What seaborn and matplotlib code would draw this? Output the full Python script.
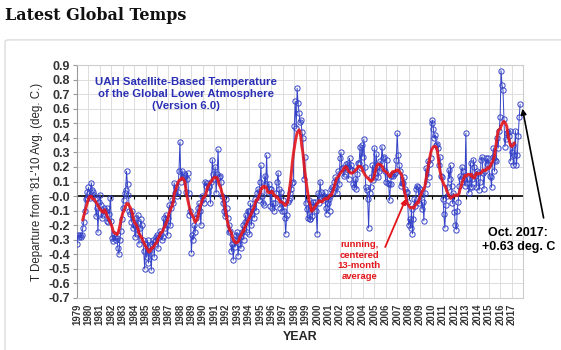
import numpy as np
import pandas as pd
import matplotlib
matplotlib.use('Agg')
import matplotlib.pyplot as plt
import seaborn as sns
from matplotlib.patches import FancyBboxPatch

# monthly anomalies, Jan 1979 .. Oct 2017 (deg C, vs 1981-2010)
anomaly = [
    -0.33, -0.27, -0.28, -0.27, -0.28, -0.27, -0.22, -0.18, -0.10, -0.02, -0.01, 0.03,   # 1979
    0.06, 0.02, -0.01, 0.09, 0.04, 0.03, 0.01, -0.02, -0.14, -0.08, -0.25, -0.04,        # 1980
    0.01, -0.06, -0.15, -0.13, -0.08, -0.11, -0.10, -0.08, -0.17, -0.18, -0.12, -0.01,   # 1981
    -0.17, -0.29, -0.31, -0.26, -0.28, -0.30, -0.29, -0.36, -0.40, -0.30, -0.24, -0.16,  # 1982
    -0.08, -0.03, 0.02, 0.04, 0.17, 0.08, 0.01, -0.10, -0.12, -0.18, -0.10, -0.22,       # 1983
    -0.20, -0.28, -0.15, -0.26, -0.13, -0.33, -0.22, -0.16, -0.20, -0.30, -0.38, -0.50,  # 1984
    -0.33, -0.42, -0.30, -0.46, -0.38, -0.34, -0.51, -0.33, -0.30, -0.42, -0.31, -0.28,  # 1985
    -0.27, -0.36, -0.28, -0.24, -0.26, -0.30, -0.28, -0.15, -0.22, -0.13, -0.20, -0.27,  # 1986
    -0.15, -0.06, -0.20, -0.08, -0.03, -0.05, 0.09, 0.02, 0.06, 0.00, 0.03, 0.17,        # 1987
    0.37, 0.10, 0.17, 0.13, 0.15, 0.14, 0.03, 0.12, 0.16, 0.02, -0.13, -0.10,            # 1988
    -0.39, -0.27, -0.30, -0.20, -0.25, -0.15, -0.12, -0.08, -0.05, -0.10, -0.20, 0.00,   # 1989
    -0.02, -0.05, 0.10, 0.07, 0.09, 0.03, 0.06, 0.07, -0.05, 0.10, 0.25, 0.15,           # 1990
    0.12, 0.20, 0.02, 0.15, 0.32, 0.13, 0.14, 0.10, 0.00, -0.05, -0.10, -0.14,           # 1991
    -0.02, -0.08, -0.15, -0.25, -0.20, -0.24, -0.38, -0.33, -0.44, -0.30, -0.35, -0.27,  # 1992
    -0.25, -0.41, -0.33, -0.28, -0.36, -0.25, -0.20, -0.30, -0.18, -0.13, -0.25, -0.10,  # 1993
    -0.10, -0.26, -0.05, -0.20, -0.12, -0.08, -0.15, -0.02, -0.10, 0.02, 0.05, -0.03,    # 1994
    0.10, 0.21, 0.00, -0.05, -0.06, 0.14, 0.08, 0.28, 0.03, 0.08, 0.05, -0.07,           # 1995
    0.05, -0.08, -0.05, -0.10, -0.05, 0.02, 0.10, 0.16, 0.05, -0.08, 0.03, -0.10,        # 1996
    -0.03, -0.10, -0.15, -0.26, -0.13, -0.04, -0.03, -0.01, 0.02, 0.05, 0.09, 0.10,      # 1997
    0.48, 0.65, 0.47, 0.74, 0.64, 0.57, 0.51, 0.52, 0.44, 0.40, 0.12, 0.27,              # 1998
    -0.05, -0.09, -0.15, -0.03, -0.16, -0.16, -0.07, -0.14, -0.04, -0.07, -0.04, -0.10,  # 1999
    -0.26, 0.02, -0.05, 0.10, 0.03, -0.01, -0.03, 0.00, 0.03, -0.08, -0.12, -0.05,       # 2000
    -0.02, -0.10, 0.00, 0.05, 0.06, 0.03, 0.10, 0.13, 0.06, 0.02, 0.17, 0.08,            # 2001
    0.26, 0.30, 0.19, 0.19, 0.14, 0.15, 0.22, 0.19, 0.23, 0.12, 0.26, 0.18,              # 2002
    0.21, 0.18, 0.08, 0.06, 0.12, 0.05, 0.15, 0.23, 0.23, 0.34, 0.19, 0.35,              # 2003
    0.27, 0.39, 0.20, 0.06, 0.04, -0.02, -0.22, 0.02, 0.06, 0.13, 0.21, 0.11,            # 2004
    0.33, 0.13, 0.29, 0.20, 0.13, 0.17, 0.24, 0.19, 0.34, 0.26, 0.27, 0.17,              # 2005
    0.10, 0.25, 0.09, 0.08, -0.03, 0.08, 0.14, 0.15, 0.14, 0.15, 0.16, 0.25,             # 2006
    0.43, 0.28, 0.21, 0.17, 0.07, 0.09, 0.09, 0.13, 0.05, 0.03, 0.03, -0.04,             # 2007
    -0.20, -0.16, -0.22, -0.09, -0.26, -0.16, -0.02, -0.07, 0.05, 0.07, 0.06, -0.05,     # 2008
    0.05, 0.01, -0.09, -0.04, -0.17, 0.02, 0.19, 0.08, 0.24, 0.13, 0.22, 0.26,           # 2009
    0.50, 0.52, 0.46, 0.40, 0.42, 0.35, 0.36, 0.33, 0.21, 0.27, 0.14, 0.13,              # 2010
    -0.02, -0.12, -0.22, -0.06, 0.00, 0.06, 0.18, 0.12, 0.21, 0.07, -0.05, 0.02,         # 2011
    -0.11, -0.20, -0.23, -0.10, -0.04, 0.07, 0.14, 0.12, 0.20, 0.17, 0.12, 0.07,         # 2012
    0.43, 0.09, 0.12, 0.02, 0.06, 0.23, 0.06, 0.12, 0.25, 0.20, 0.14, 0.06,              # 2013
    0.17, 0.16, 0.04, 0.10, 0.25, 0.27, 0.16, 0.05, 0.17, 0.26, 0.22, 0.26,              # 2014
    0.22, 0.14, 0.13, 0.06, 0.27, 0.33, 0.17, 0.25, 0.24, 0.40, 0.33, 0.45,              # 2015
    0.54, 0.86, 0.76, 0.73, 0.53, 0.34, 0.39, 0.43, 0.44, 0.41, 0.45, 0.24,              # 2016
    0.30, 0.35, 0.21, 0.28, 0.45, 0.21, 0.28, 0.41, 0.54, 0.63,                          # 2017
]
start_year = 1979
years = list(range(1979, 2018))
y_ticks = [round(v, 1) for v in np.arange(-0.7, 0.91, 0.1)]

chart_title = "UAH Satellite-Based Temperature\nof the Global Lower Atmosphere\n(Version 6.0)"
ylabel = "T Departure from '81-'10 Avg. (deg. C.)"

df = pd.DataFrame({'anom': anomaly})
df['t'] = start_year + np.arange(len(df)) / 12.0
df['avg13'] = df['anom'].rolling(13, center=True).mean()
last = df.iloc[-1]

sns.set_style('white')
plt.rcParams['font.family'] = ['Liberation Sans', 'DejaVu Sans']

blue = '#3543c8'
red = '#e3161b'

fig = plt.figure(figsize=(5.61, 3.5), dpi=100)
fig.patch.set_facecolor('white')

# page heading + the frame around the image
fig.text(0.009, 0.955, 'Latest Global Temps', family='DejaVu Serif', weight='bold',
         fontsize=11.5, va='center', ha='left', color='#111111')
fig.patches.append(FancyBboxPatch((0.009, -0.2), 1.2, 1.086, boxstyle='round,pad=0,rounding_size=0.006',
                                  transform=fig.transFigure, fill=False, ec='#dcdcdc', lw=1.0))

ax = fig.add_axes([77/561, 1 - 298/350, 446/561, 233/350])
ax.set_xlim(1979, 2018)
ax.set_ylim(-0.7, 0.9)

ax.set_xticks(years)
ax.set_xticklabels([str(y) for y in years], rotation=90, fontsize=6.9, weight='bold', color='#333333')
ax.set_yticks(y_ticks)
ax.set_yticklabels(['%.1f' % v for v in y_ticks], fontsize=9, weight='bold', color='#333333')
ax.tick_params(axis='x', length=0, pad=4)
ax.tick_params(axis='y', length=3, width=0.8, color='#999999', pad=2, left=True)
ax.grid(True, color='#dddddd', lw=0.7)
for s in ax.spines.values():
    s.set_color('#cccccc')
    s.set_linewidth(0.8)
ax.spines['left'].set_color('#999999')

ax.axhline(0, color='black', lw=1.2, zorder=2)
ax.vlines(years, -0.02, 0, color='black', lw=0.8, zorder=2)

sns.lineplot(data=df, x='t', y='anom', ax=ax, color=blue, lw=0.7, marker='o', ms=3.8,
             mfc='none', mec=blue, mew=0.7, zorder=3, sort=False)
sns.lineplot(data=df, x='t', y='avg13', ax=ax, color=red, lw=2.1, alpha=0.9, zorder=4, sort=False)

ax.set_xlabel('YEAR', fontsize=9, weight='bold', labelpad=4)
ax.set_ylabel(ylabel, fontsize=8.3, labelpad=4)

ax.text(1988.5, 0.815, chart_title, color='#2a2fb5', weight='bold', fontsize=8.2,
        ha='center', va='top', linespacing=1.25)

# running-mean callout
ax.text(2003.7, -0.305, 'running,\ncentered\n13-month\naverage', color=red, weight='bold',
        fontsize=6.8, ha='center', va='top', linespacing=1.2)
ax.annotate('', xy=(2007.75, -0.02), xytext=(2005.95, -0.35),
            arrowprops=dict(arrowstyle='-|>', color=red, lw=1.3, mutation_scale=7,
                            shrinkA=0, shrinkB=0))

# latest month callout
ax.text(2017.6, -0.30, 'Oct. 2017:\n+0.63 deg. C', color='black', weight='bold', fontsize=9,
        ha='center', va='center', linespacing=1.2, clip_on=False)
ax.annotate('', xy=(last['t'] + 0.2, last['anom'] - 0.03), xytext=(2019.8, -0.15),
            annotation_clip=False,
            arrowprops=dict(arrowstyle='-|>', color='black', lw=1.2, mutation_scale=8,
                            shrinkA=0, shrinkB=0))

fig.savefig('out.png', dpi=100)
